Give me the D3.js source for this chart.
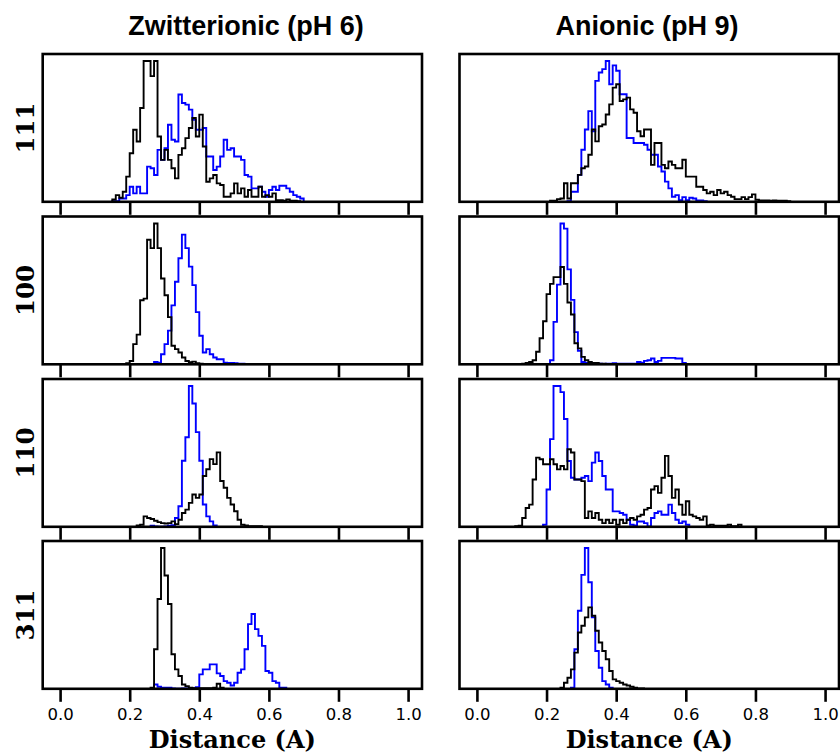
<!DOCTYPE html>
<html>
<head>
<meta charset="utf-8">
<script src="https://cdn.jsdelivr.net/npm/d3@7"></script>
<style>
  html, body { margin: 0; padding: 0; background: #fff; }
  svg { display: block; }
</style>
</head>
<body>
<svg id="chart" width="840" height="753"></svg>
<script>
// ---------------- DATA ----------------
const binWidth = 0.01;
const columnTitles = ["Zwitterionic (pH 6)", "Anionic (pH 9)"];
const rowLabels = ["111", "100", "110", "311"];
const xTicks = [0.0, 0.2, 0.4, 0.6, 0.8, 1.0];
const xTickLabels = ["0.0", "0.2", "0.4", "0.6", "0.8", "1.0"];
const xLabel = "Distance (A)";

// each series: first bin left edge + bin counts (relative units)
const zw111BlackStart = 0.15;
const zw111Black = [7,20,12,30,75,145,215,180,280,420,420,375,420,195,125,155,125,100,70,140,160,190,220,250,195,260,165,60,70,80,55,50,15,15,25,55,25,40,15,35,15,15,45,15,20,15,25,5,5,3,7,3,3,2];
const zw111BlueStart = 0.15;
const zw111Blue = [2,2,10,10,20,45,25,45,25,25,105,100,80,155,125,160,230,185,180,320,295,290,275,245,215,215,220,135,135,95,105,135,185,155,160,135,135,125,80,75,40,40,45,30,15,35,45,35,48,48,40,30,20,15,10];

const an111BlackStart = 0.21;
const an111Black = [3,3,8,10,55,10,55,55,80,100,105,140,215,180,225,230,260,290,340,350,300,305,310,275,265,210,195,215,215,110,175,175,110,100,120,110,100,100,125,75,75,75,45,45,35,25,30,20,35,25,30,20,15,8,8,14,8,14,22,6,4,4,4,3,4,3,3,3,2];
const an111BlueStart = 0.26;
const an111Blue = [2,30,30,80,155,215,270,210,360,385,395,419,350,406,390,320,320,190,190,175,175,175,170,155,140,140,105,90,60,40,15,20,5,14,5,12,10,4,4,2];

const zw100BlackStart = 0.19;
const zw100Black = [3,10,60,88,190,195,370,345,418,345,255,205,140,55,45,35,20,10,6,8,3,2];
const zw100BlueStart = 0.27;
const zw100Blue = [7,5,30,60,100,175,245,315,385,345,290,235,155,85,35,45,30,20,15,15,5,4,4,3,2,2];

const an100BlackStart = 0.13;
const an100Black = [2,4,7,12,37,77,127,207,237,257,257,287,237,182,147,62,47,22,12,7,4,4,2,2,1,1];
const an100BlueStart = 0.21;
const an100Blue = [12,125,235,415,400,280,190,95,40,7,4,3,2,1,2,1,2,2,3,2,2,2,2,2,2,7,5,10,12,17,7,10,19,19,19,19,17,17,4];

const zw110BlackStart = 0.22;
const zw110Black = [4,6,31,26,23,18,14,11,10,11,16,8,21,41,51,71,96,86,96,151,171,201,186,221,136,116,86,66,46,21,6,4,2,2,2,2];
const zw110BlueStart = 0.26;
const zw110Blue = [3,1,0,0,1,3,5,26,61,196,266,418,366,281,196,66,31,16,4];

const an110BlackStart = 0.11;
const an110Black = [2,3,26,56,66,141,206,201,186,186,201,186,171,181,171,231,221,141,141,136,26,46,26,41,21,11,21,11,21,6,21,11,21,26,21,31,36,51,56,111,121,101,146,211,151,86,111,66,36,76,36,31,26,21,31,4,6,3,3,3,3,6,2,2,6];
const an110BlueStart = 0.19;
const an110Blue = [6,111,261,419,419,401,321,196,146,141,141,146,151,136,191,221,196,151,111,111,46,46,41,36,21,6,4,16,16,11,1,26,41,46,36,36,66,41,21,11,16,6];

const zw311BlackStart = 0.26;
const zw311Black = [3,118,268,420,338,253,103,58,38,13,8,3,2,1,2,2,2,2,3,15,3];
const zw311BlueStart = 0.27;
const zw311Blue = [13,6,3,3,3,1,0,0,1,1,1,2,5,43,58,58,73,73,46,38,23,18,10,18,48,58,118,193,223,178,158,128,53,48,23,18,3,3];

const an311BlackStart = 0.24;
const an311Black = [3,18,33,58,108,168,188,213,243,218,173,138,113,88,53,28,23,18,13,10,6,3,1,1];
const an311BlueStart = 0.27;
const an311Blue = [3,118,233,340,420,318,213,113,63,23,13,3];

const panels = [
  [ {start: zw111BlueStart, counts: zw111Blue, color: "#0000ff"}, {start: zw111BlackStart, counts: zw111Black, color: "#000000"} ],
  [ {start: an111BlueStart, counts: an111Blue, color: "#0000ff"}, {start: an111BlackStart, counts: an111Black, color: "#000000"} ],
  [ {start: zw100BlueStart, counts: zw100Blue, color: "#0000ff"}, {start: zw100BlackStart, counts: zw100Black, color: "#000000"} ],
  [ {start: an100BlueStart, counts: an100Blue, color: "#0000ff"}, {start: an100BlackStart, counts: an100Black, color: "#000000"} ],
  [ {start: zw110BlueStart, counts: zw110Blue, color: "#0000ff"}, {start: zw110BlackStart, counts: zw110Black, color: "#000000"} ],
  [ {start: an110BlueStart, counts: an110Blue, color: "#0000ff"}, {start: an110BlackStart, counts: an110Black, color: "#000000"} ],
  [ {start: zw311BlueStart, counts: zw311Blue, color: "#0000ff"}, {start: zw311BlackStart, counts: zw311Black, color: "#000000"} ],
  [ {start: an311BlueStart, counts: an311Blue, color: "#0000ff"}, {start: an311BlackStart, counts: an311Black, color: "#000000"} ]
];

// ---------------- LAYOUT ----------------
const svg = d3.select("#chart");
const colLeft = [42.7, 459.5];
const colRight = [422, 839];
const rowTop = [54, 216.5, 379, 541];
const panelH = 147.8;
const xDomain = [-0.05, 1.04];

svg.append("rect").attr("width", 840).attr("height", 753).attr("fill", "#fff");

// column titles
const titleX = [246, 647];
columnTitles.forEach((t, c) => {
  svg.append("text")
    .attr("x", titleX[c]).attr("y", 35)
    .attr("text-anchor", "middle")
    .attr("font-family", "'Liberation Sans', Arial, sans-serif")
    .attr("font-weight", "bold")
    .attr("font-size", 27)
    .attr("fill", "#000")
    .text(t);
});

panels.forEach((series, idx) => {
  const r = Math.floor(idx / 2), c = idx % 2;
  const x0 = colLeft[c], x1 = colRight[c];
  const y0 = rowTop[r], y1 = rowTop[r] + panelH;
  const x = d3.scaleLinear().domain(xDomain).range([x0, x1]);
  const ymax = d3.max(series, s => d3.max(s.counts)) * 1.05;
  const y = d3.scaleLinear().domain([0, ymax]).range([y1, y0]);

  const clipId = "clip" + idx;
  svg.append("clipPath").attr("id", clipId)
    .append("rect").attr("x", x0).attr("y", y0).attr("width", x1 - x0).attr("height", y1 - y0);

  const g = svg.append("g").attr("clip-path", `url(#${clipId})`);
  const line = d3.line().x(d => x(d[0])).y(d => y(d[1]));

  series.forEach(s => {
    const pts = [[s.start, 0]];
    s.counts.forEach((v, i) => {
      const a = s.start + i * binWidth, b = s.start + (i + 1) * binWidth;
      pts.push([a, v]); pts.push([b, v]);
    });
    pts.push([s.start + s.counts.length * binWidth, 0]);
    g.append("path").attr("d", line(pts))
      .attr("fill", "none").attr("stroke", s.color)
      .attr("stroke-width", 1.9).attr("stroke-linejoin", "miter");
  });

  // bottom axis with outward ticks
  const axis = d3.axisBottom(x).tickValues(xTicks).tickSize(13).tickPadding(6)
    .tickFormat((d, i) => r === 3 ? xTickLabels[i] : "");
  const ax = svg.append("g").attr("transform", `translate(0,${y1})`).call(axis);
  ax.select(".domain").remove();
  ax.selectAll(".tick line").attr("stroke", "#000").attr("stroke-width", 2.6);
  ax.selectAll(".tick text")
    .attr("font-family", "'DejaVu Sans', sans-serif")
    .attr("font-size", 16.5).attr("fill", "#000");

  // frame
  svg.append("rect").attr("x", x0).attr("y", y0)
    .attr("width", x1 - x0).attr("height", y1 - y0)
    .attr("fill", "none").attr("stroke", "#000").attr("stroke-width", 2.6);

  // row label
  if (c === 0) {
    svg.append("text")
      .attr("transform", `translate(34,${(y0 + y1) / 2}) rotate(-90)`)
      .attr("text-anchor", "middle")
      .attr("font-family", "'DejaVu Serif', serif")
      .attr("font-weight", "bold")
      .attr("font-size", 24.5)
      .attr("fill", "#000")
      .text(rowLabels[r]);
  }
  // x label
  if (r === 3) {
    svg.append("text")
      .attr("x", (x0 + x1) / 2).attr("y", 747.5)
      .attr("text-anchor", "middle")
      .attr("font-family", "'DejaVu Serif', serif")
      .attr("font-weight", "bold")
      .attr("font-size", 24)
      .attr("fill", "#000")
      .text(xLabel);
  }
});
</script>
</body>
</html>
